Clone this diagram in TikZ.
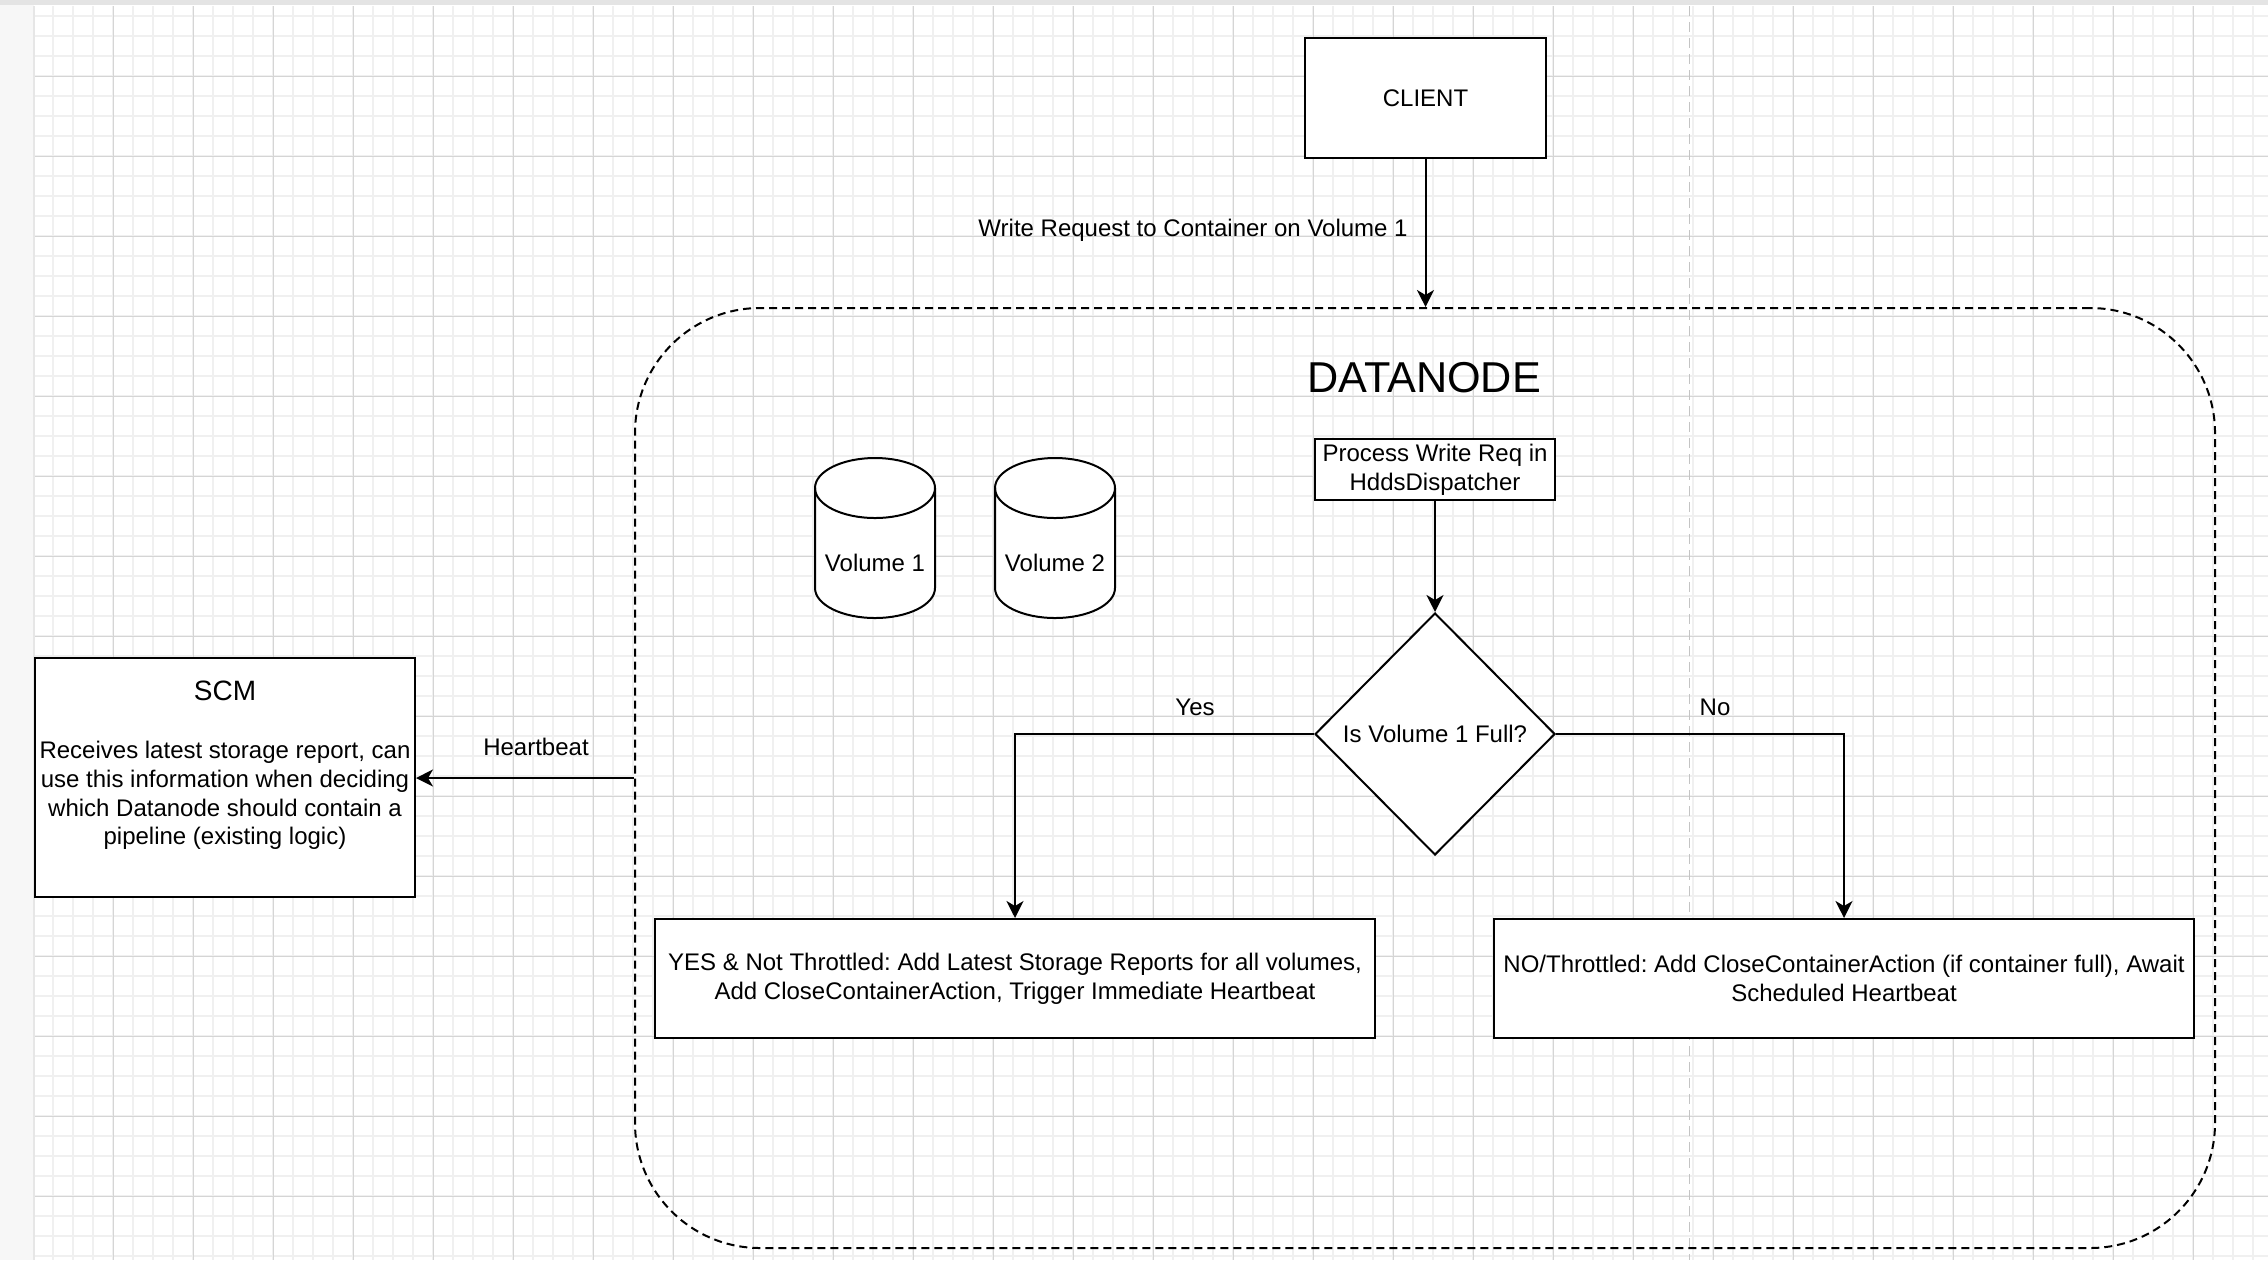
\documentclass[tikz,border=0pt]{standalone}
\usepackage{fontspec}
\setmainfont{Liberation Sans}
\usetikzlibrary{shapes.geometric,arrows.meta}
\frenchspacing
\definecolor{gridminor}{HTML}{F0F0F0}
\definecolor{gridmajor}{HTML}{D5D5D5}
\definecolor{pagebrk}{HTML}{C4C4C4}
\definecolor{sidegray}{HTML}{F7F7F7}
\definecolor{sideedge}{HTML}{E6E6E6}
\definecolor{topgray}{HTML}{E4E4E4}
\tikzset{
  txt/.style={font=\fontsize{12}{14.4}\selectfont},
  box/.style={txt, draw=black, line width=1pt, fill=white, rectangle, align=center, inner sep=0pt},
  conn/.style={draw=black, line width=1pt, -{Stealth[length=8.5pt,width=8.5pt,inset=2.5pt]}},
  lbl/.style={txt, inner sep=0pt},
  dnbox/.style={draw=black, line width=1pt, dash pattern=on 4pt off 2.5pt, rounded corners=62.5pt, rectangle, inner sep=0pt},
  cyl/.style={draw=black, line width=1pt, fill=white},
  decision/.style={txt, draw=black, line width=1pt, fill=white, diamond, aspect=1, inner sep=0pt},
}
\begin{document}
\begin{tikzpicture}[x=0.5pt,y=-0.5pt]
\useasboundingbox (0,0) rectangle (2268,1260);
% canvas background
\fill[white] (0,0) rectangle (2268,1260);
\fill[sidegray] (0,0) rectangle (34,1260);
\draw[sideedge, line width=0.6pt] (34,6) -- (34,1260);
\fill[topgray] (0,0) rectangle (2268,5);
% grid
\begin{scope}
  \clip (35,6) rectangle (2268,1260);
  \foreach \i in {0,...,112} \draw[gridminor, line width=1pt] (33.3+20*\i,6) -- (33.3+20*\i,1260);
  \foreach \j in {0,...,62} \draw[gridminor, line width=1pt] (34,16.3+20*\j) -- (2268,16.3+20*\j);
  \foreach \i in {1,...,27} \draw[gridmajor, line width=0.6pt] (33.3+80*\i,6) -- (33.3+80*\i,1260);
  \foreach \j in {0,...,14} \draw[gridmajor, line width=0.6pt] (34,76.3+80*\j) -- (2268,76.3+80*\j);
\end{scope}
% page break line
\draw[pagebrk, line width=0.8pt, dash pattern=on 5pt off 3pt] (1689.5,6) -- (1689.5,1260);

% DATANODE container
\node[dnbox, minimum width=790pt, minimum height=470pt] (dn) at (1425,778) {};
\node[lbl, font=\fontsize{21.6}{26}\selectfont, anchor=base] (dntitle) at (1424,392.7) {DATANODE};

% client
\node[box, minimum width=120.5pt, minimum height=60pt] (client) at (1425.5,98) {CLIENT};

% process box
\node[box, minimum width=120pt, minimum height=30.5pt] (proc) at (1435,469.5) {Process Write Req in\\HddsDispatcher};

% volumes (cylinders)
\draw[cyl] (815,488) -- (815,588) arc[start angle=180, end angle=360, x radius=30pt, y radius=15pt] -- (935,488) arc[start angle=0, end angle=180, x radius=30pt, y radius=15pt] -- cycle;
\draw[line width=1pt] (815,488) arc[start angle=180, end angle=360, x radius=30pt, y radius=15pt];
\node[lbl] (vol1) at (875,563) {Volume 1};
\draw[cyl] (995,488) -- (995,588) arc[start angle=180, end angle=360, x radius=30pt, y radius=15pt] -- (1115,488) arc[start angle=0, end angle=180, x radius=30pt, y radius=15pt] -- cycle;
\draw[line width=1pt] (995,488) arc[start angle=180, end angle=360, x radius=30pt, y radius=15pt];
\node[lbl] (vol2) at (1055,563) {Volume 2};

% decision
\node[decision, minimum width=120pt, minimum height=121pt] (dia) at (1435,734) {Is Volume 1 Full?};

% outcome boxes
\node[box, minimum width=360pt, minimum height=59.5pt] (yesbox) at (1015,978.5) {YES \& Not Throttled: Add Latest Storage Reports for all volumes,\\Add CloseContainerAction, Trigger Immediate Heartbeat};
\node[box, minimum width=350pt, minimum height=59.5pt] (nobox) at (1844,978.5) {NO/Throttled: Add CloseContainerAction (if container full), Await\\Scheduled Heartbeat};

% SCM
\node[box, minimum width=190pt, minimum height=119.5pt] (scm) at (225,777.5) {{\fontsize{14}{16}\selectfont SCM}\\[14.4pt]Receives latest storage report, can\\use this information when deciding\\which Datanode should contain a\\pipeline (existing logic)\\\mbox{}};

% connectors
\draw[conn] (client.south) -- (client.south |- dn.north);
\node[lbl, anchor=base east] (wr) at (1408,236) {Write Request to Container on Volume 1};
\draw[conn] (proc.south) -- (dia.north);
\draw[conn] (dia.west) -| (yesbox.north);
\draw[conn] (dia.east) -| (nobox.north);
\node[lbl, anchor=base] (yeslbl) at (1195,715) {Yes};
\node[lbl, anchor=base] (nolbl) at (1715,715) {No};
\draw[conn] (dn.west) -- (dn.west -| scm.east);
\node[lbl, anchor=base] (hb) at (536,755) {Heartbeat};
\end{tikzpicture}
\end{document}
